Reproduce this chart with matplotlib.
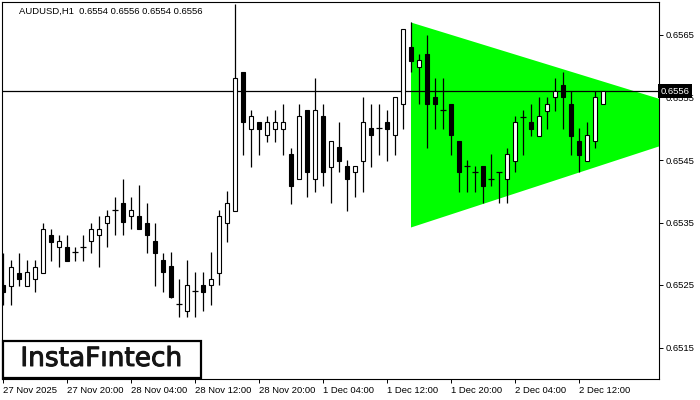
import matplotlib
matplotlib.use("Agg")
import matplotlib.pyplot as plt
import matplotlib.patheffects as pe
from matplotlib.patches import Polygon, Rectangle

# AUDUSD H1 candles, bar 0 = 27 Nov 2025 00:00
opens = [0.65250, 0.65249, 0.65270, 0.65249, 0.65259, 0.65270, 0.65330, 0.65310, 0.65310, 0.65302,
         0.65310, 0.65320, 0.65330, 0.65350, 0.65370, 0.65381, 0.65360, 0.65360, 0.65350, 0.65320,
         0.65290, 0.65280, 0.65220, 0.65209, 0.65240, 0.65250, 0.65250, 0.65270, 0.65350, 0.65369,
         0.65590, 0.65500, 0.65511, 0.65490, 0.65500, 0.65500, 0.65460, 0.65419, 0.65530, 0.65419,
         0.65520, 0.65439, 0.65471, 0.65440, 0.65430, 0.65449, 0.65501, 0.65501, 0.65511, 0.65490,
         0.65540, 0.65630, 0.65599, 0.65620, 0.65550, 0.65530, 0.65540, 0.65480, 0.65440, 0.65431,
         0.65440, 0.65419, 0.65430, 0.65419, 0.65449, 0.65519, 0.65511, 0.65488, 0.65529, 0.65550,
         0.65570, 0.65540, 0.65480, 0.65449, 0.65480, 0.65540]
highs = [0.65301, 0.65290, 0.65301, 0.65290, 0.65290, 0.65350, 0.65339, 0.65330, 0.65330, 0.65310,
         0.65330, 0.65349, 0.65360, 0.65370, 0.65390, 0.65419, 0.65390, 0.65410, 0.65381, 0.65350,
         0.65301, 0.65302, 0.65259, 0.65290, 0.65271, 0.65271, 0.65302, 0.65370, 0.65400, 0.65700,
         0.65590, 0.65530, 0.65511, 0.65520, 0.65530, 0.65540, 0.65470, 0.65540, 0.65530, 0.65581,
         0.65540, 0.65480, 0.65511, 0.65450, 0.65440, 0.65550, 0.65540, 0.65540, 0.65530, 0.65550,
         0.65660, 0.65670, 0.65620, 0.65650, 0.65581, 0.65581, 0.65540, 0.65480, 0.65450, 0.65440,
         0.65440, 0.65460, 0.65430, 0.65470, 0.65520, 0.65530, 0.65540, 0.65550, 0.65550, 0.65581,
         0.65590, 0.65560, 0.65501, 0.65511, 0.65560, 0.65560]
lows = [0.65218, 0.65218, 0.65249, 0.65249, 0.65239, 0.65270, 0.65289, 0.65279, 0.65289, 0.65289,
        0.65289, 0.65301, 0.65279, 0.65310, 0.65330, 0.65330, 0.65339, 0.65339, 0.65301, 0.65249,
        0.65239, 0.65229, 0.65199, 0.65199, 0.65199, 0.65209, 0.65218, 0.65250, 0.65319, 0.65369,
        0.65458, 0.65439, 0.65458, 0.65479, 0.65479, 0.65458, 0.65380, 0.65419, 0.65390, 0.65399,
        0.65409, 0.65381, 0.65430, 0.65369, 0.65390, 0.65399, 0.65439, 0.65458, 0.65449, 0.65458,
        0.65500, 0.65590, 0.65540, 0.65470, 0.65500, 0.65500, 0.65458, 0.65399, 0.65399, 0.65399,
        0.65381, 0.65408, 0.65381, 0.65381, 0.65430, 0.65458, 0.65488, 0.65488, 0.65500, 0.65529,
        0.65500, 0.65458, 0.65430, 0.65449, 0.65469, 0.65540]
closes = [0.65239, 0.65279, 0.65259, 0.65270, 0.65279, 0.65339, 0.65319, 0.65320, 0.65289, 0.65302,
          0.65310, 0.65339, 0.65339, 0.65360, 0.65370, 0.65350, 0.65370, 0.65339, 0.65330, 0.65301,
          0.65270, 0.65230, 0.65220, 0.65250, 0.65240, 0.65239, 0.65259, 0.65360, 0.65381, 0.65581,
          0.65510, 0.65520, 0.65500, 0.65511, 0.65511, 0.65511, 0.65409, 0.65520, 0.65430, 0.65530,
          0.65430, 0.65480, 0.65449, 0.65419, 0.65440, 0.65511, 0.65490, 0.65501, 0.65500, 0.65550,
          0.65660, 0.65609, 0.65610, 0.65540, 0.65540, 0.65530, 0.65490, 0.65430, 0.65440, 0.65431,
          0.65409, 0.65419, 0.65430, 0.65460, 0.65511, 0.65519, 0.65500, 0.65520, 0.65540, 0.65560,
          0.65550, 0.65488, 0.65458, 0.65490, 0.65550, 0.65560]

tick_bars = [0, 8, 16, 24, 32, 40, 48, 56, 64, 72]
tick_labels = ["27 Nov 2025", "27 Nov 20:00", "28 Nov 04:00", "28 Nov 12:00", "28 Nov 20:00",
               "1 Dec 04:00", "1 Dec 12:00", "1 Dec 20:00", "2 Dec 04:00", "2 Dec 12:00"]
price_ticks = [0.6515, 0.6525, 0.6535, 0.6545, 0.6555, 0.6565]
bid = 0.6556

# symmetrical triangle (bar index, price)
tri_x = [51, 51, 91.4]
tri_y = [0.65670, 0.65342, 0.65511]

plt.rcParams['font.family'] = ['Liberation Sans', 'DejaVu Sans']

fig = plt.figure(figsize=(7, 4), dpi=100)
ax = fig.add_axes([2/700, 21/400, 657/700, 377/400])

ax.add_patch(Polygon(list(zip(tri_x, tri_y)), closed=True, facecolor='#00ff00',
                     edgecolor='none', zorder=1))
ax.axhline(bid, color='black', lw=0.9, zorder=2)

for i in range(len(opens)):
    o, h, l, c = opens[i], highs[i], lows[i], closes[i]
    ax.vlines(i, l, h, color='black', lw=0.9, zorder=3)
    if abs(c - o) < 1e-7:
        ax.hlines(o, i - 0.32, i + 0.32, color='black', lw=0.9, zorder=4)
    else:
        fc = 'white' if c > o else 'black'
        ax.bar(i, c - o, bottom=o, width=0.55, facecolor=fc, edgecolor='black',
               lw=0.8, zorder=4)

ax.set_xlim(-0.125, 82.0)
ax.set_ylim(0.650996, 0.657028)

ax.set_xticks(tick_bars)
ax.set_xticklabels(tick_labels, ha='left')
ax.set_yticks(price_ticks)
ax.set_yticklabels([f"{p:.4f}" for p in price_ticks])
ax.yaxis.tick_right()
ax.tick_params(axis='both', labelsize=6.8, length=3, width=0.7, color='black')
ax.tick_params(axis='y', pad=2)
ax.tick_params(axis='x', pad=2)
for s in ax.spines.values():
    s.set_linewidth(0.8)
    s.set_color('black')

# current price tag on the right scale (covers the 0.6555 label like the terminal does)
ax.text(1.0025, bid, f"{bid:.4f}", transform=ax.get_yaxis_transform(), color='white',
        fontsize=6.8, ha='left', va='center', zorder=10, clip_on=False,
        bbox=dict(boxstyle='square,pad=0.25', fc='black', ec='none'))

fig.text(19/700, 1 - 11/400, "AUDUSD,H1  0.6554 0.6556 0.6554 0.6556", fontsize=6.8,
         ha='left', va='center')

fig.patches.append(Rectangle((3/700, 22/400), 198/700, 37/400, transform=fig.transFigure,
                             facecolor='white', edgecolor='black', lw=1.6, zorder=5))
fig.text(101.5/700, 1 - 359/400, "InstaFıntech", fontsize=19, family='DejaVu Sans',
         ha='center', va='center', color='#151515', zorder=6,
         path_effects=[pe.withStroke(linewidth=0.7, foreground='#151515')])

fig.savefig("out.png", dpi=100)
